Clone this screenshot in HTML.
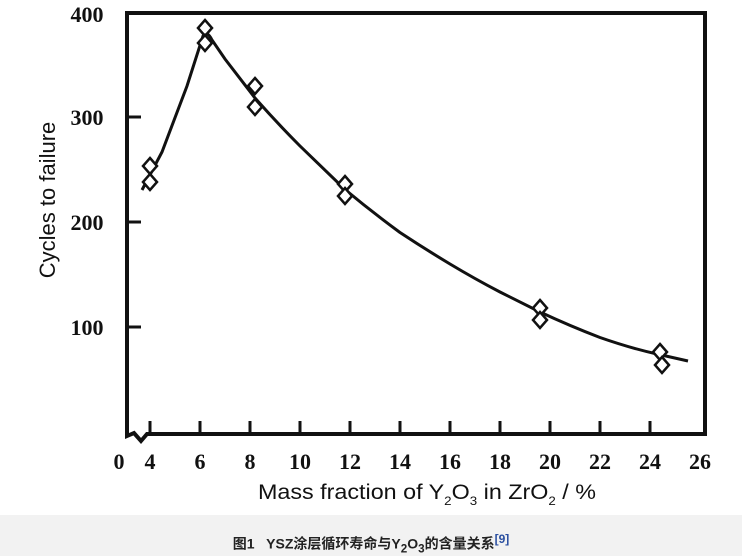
<!DOCTYPE html>
<html><head><meta charset="utf-8"><style>
body{margin:0;width:742px;height:556px;background:#fff;overflow:hidden;position:relative}
.band{position:absolute;left:0;top:515px;width:742px;height:41px;background:#f2f2f2}
.cap{position:absolute;top:532px;width:742px;text-align:center;font:bold 14px "Liberation Sans","Noto Sans CJK SC",sans-serif;color:#222}
.cap sup{color:#2a4fa0;font-size:12px}
</style></head><body>
<svg width="742" height="515" style="position:absolute;left:0;top:0">
<g fill="none" stroke="#111" stroke-width="4">
<path d="M127,13 H705 V434 H147 L141,441 L134,433 L127,436 Z" stroke-linejoin="miter"/>
</g>
<g stroke="#111" stroke-width="3">
<line x1="127" y1="117" x2="141" y2="117"/><line x1="127" y1="222" x2="141" y2="222"/><line x1="127" y1="327" x2="141" y2="327"/>
<line x1="150" y1="434" x2="150" y2="421"/><line x1="200" y1="434" x2="200" y2="421"/><line x1="250" y1="434" x2="250" y2="421"/><line x1="300" y1="434" x2="300" y2="421"/><line x1="350" y1="434" x2="350" y2="421"/><line x1="400" y1="434" x2="400" y2="421"/><line x1="450" y1="434" x2="450" y2="421"/><line x1="500" y1="434" x2="500" y2="421"/><line x1="550" y1="434" x2="550" y2="421"/><line x1="600" y1="434" x2="600" y2="421"/><line x1="650" y1="434" x2="650" y2="421"/>
</g>
<path d="M142,190 L162,152 L187,86 L203,36 Q207,30 212,40 L225,59 L255,98 Q278,124 300,146 L345,189.5 Q372,212 400,232.5 Q425,249 450,264 Q475,279 500,292 L540,312 Q570,326 600,337.5 Q630,348 657,354 L688,361" fill="none" stroke="#111" stroke-width="3"/>
<g fill="#fff" stroke="#111" stroke-width="2.5">
<path d="M150,174 l7,8 -7,8 -7,-8z"/><path d="M150,158 l7,8 -7,8 -7,-8z"/>
<path d="M205,20 l7,8 -7,8 -7,-8z"/><path d="M205,35 l7,8 -7,8 -7,-8z"/>
<path d="M255,78 l7,8 -7,8 -7,-8z"/><path d="M255,99 l7,8 -7,8 -7,-8z"/>
<path d="M345,176 l7,8 -7,8 -7,-8z"/><path d="M345,188 l7,8 -7,8 -7,-8z"/>
<path d="M540,300 l7,8 -7,8 -7,-8z"/><path d="M540,312 l7,8 -7,8 -7,-8z"/>
<path d="M660,344 l7,8 -7,8 -7,-8z"/><path d="M662,357 l7,8 -7,8 -7,-8z"/>
</g>
<g font-family="Liberation Serif,serif" font-weight="bold" font-size="22" fill="#111" text-anchor="middle">
<text x="87" y="22">400</text><text x="87" y="125">300</text><text x="87" y="230">200</text><text x="87" y="335">100</text>
<text x="119" y="469">0</text><text x="150" y="469">4</text><text x="200" y="469">6</text><text x="250" y="469">8</text><text x="300" y="469">10</text><text x="350" y="469">12</text><text x="400" y="469">14</text><text x="450" y="469">16</text><text x="500" y="469">18</text><text x="550" y="469">20</text><text x="600" y="469">22</text><text x="650" y="469">24</text><text x="700" y="469">26</text>
</g>
<text transform="translate(55,200) rotate(-90)" text-anchor="middle" font-family="Liberation Sans,sans-serif" font-size="22" fill="#111">Cycles to failure</text>
<text x="258" y="499" font-family="Liberation Sans,sans-serif" font-size="21" fill="#111" textLength="338" lengthAdjust="spacingAndGlyphs">Mass fraction of Y<tspan font-size="12" dy="6">2</tspan><tspan dy="-6">O</tspan><tspan font-size="12" dy="6">3</tspan><tspan dy="-6"> in ZrO</tspan><tspan font-size="12" dy="6">2</tspan><tspan dy="-6"> / %</tspan></text>
</svg>
<div class="band"></div>
<div class="cap">图1&nbsp;&nbsp;&nbsp;YSZ涂层循环寿命与Y<sub>2</sub>O<sub>3</sub>的含量关系<sup>[9]</sup></div>
</body></html>
